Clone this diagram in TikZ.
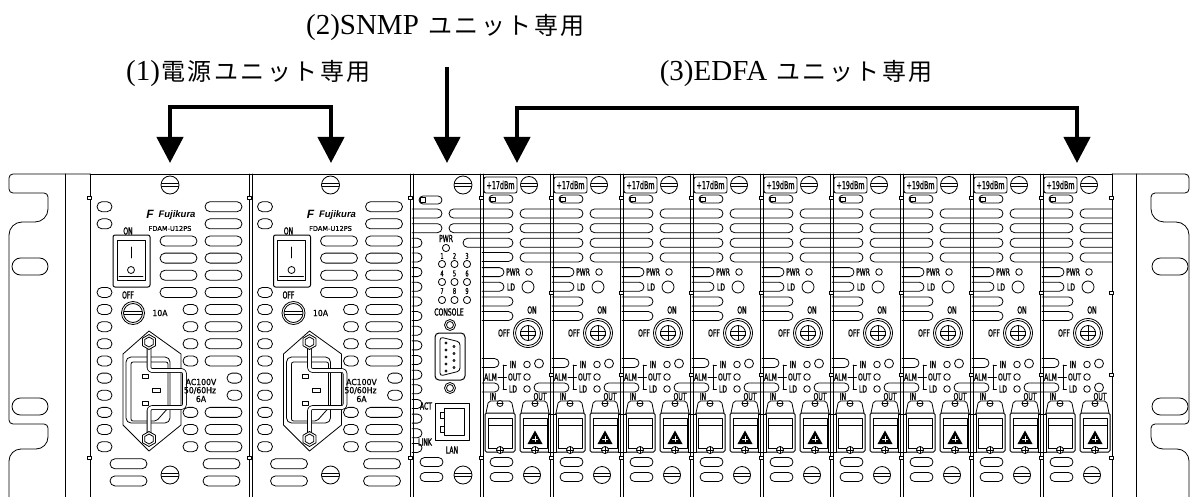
\documentclass[tikz,border=0pt]{standalone}
\usepackage{fontspec}
\setmainfont{Liberation Serif}
\newfontfamily\jpfont{Noto Sans CJK JP}
\newfontfamily\cadf[FakeStretch=0.62,FakeBold=1.2]{DejaVu Sans}
\newfontfamily\cadl[FakeStretch=0.58,FakeBold=0.8]{DejaVu Sans}
\newfontfamily\cadw[FakeStretch=0.92,FakeBold=0.8]{DejaVu Sans}
\newfontfamily\dvsf[FakeBold=0.8]{DejaVu Sans}
\newfontfamily\logof{Liberation Sans}
\usetikzlibrary{arrows.meta}
\newcommand\myjc[1]{\makebox[26.5pt]{#1}}
\newcommand\myslot[4]{\draw[rounded corners=#4pt] (#1,#3-#4) rectangle (#2,#3+#4);}
\newcommand\myhalf[4]{\draw[rounded corners=#4pt] (#1,#3-#4) -- (#2,#3-#4) -- (#2,#3+#4) -- (#1,#3+#4);}
\newcommand\myscrew[3]{\draw[fill=white] (#1,#2) circle[radius=#3pt];
  \draw (#1-0.95*#3,#2-1.4) -- (#1+0.95*#3,#2-1.4) (#1-0.95*#3,#2+1.4) -- (#1+0.95*#3,#2+1.4);}
\newcommand\mynut[3]{\draw[fill=white] (#1,#2-#3) -- (#1+0.866*#3,#2-0.5*#3) -- (#1+0.866*#3,#2+0.5*#3) -- (#1,#2+#3) -- (#1-0.866*#3,#2+0.5*#3) -- (#1-0.866*#3,#2-0.5*#3) -- cycle;}
\tikzset{
 cad/.style={font=\cadf\fontsize{9.8}{9.8}\selectfont, inner sep=0pt},
 cads/.style={font=\cadf\fontsize{8}{8}\selectfont, inner sep=0pt},
 cadw/.style={font=\cadw\fontsize{8.4}{8.4}\selectfont, inner sep=0pt},
 arrline/.style={line width=4.3pt, line join=miter, line cap=butt},
 toplabel/.style={inner sep=0pt}
}
% ---------- power supply unit ----------
\newcommand\mypsu[2]{%
\begin{scope}[shift={(#1,0)}]
 \myscrew{80}{185}{9}
 \myscrew{80}{475}{9}
 \foreach \k in {0,1,5,6,7,8,9,10,11,12,13,14}{\myslot{7}{22}{206.7+17.14*\k}{5}}
 \foreach \k in {2,3,4,5}{\myslot{70}{107}{206.7+17.14*\k}{5}}
 \foreach \k in {6,7,8,9,12,13,14}{\myslot{93}{108}{206.7+17.14*\k}{5}}
 \foreach \k in {0,1,2,3,4,5,6,7,8,9,12,13,14}{\myslot{115}{152}{206.7+17.14*\k}{5}}
 \foreach \k in {10,11}{\myslot{137}{152}{206.7+17.14*\k}{5}}
 \foreach \k in {15,16}{\myslot{20}{57}{206.7+17.14*\k}{5}\myslot{113}{150}{206.7+17.14*\k}{5}}
 \node[font=\logof\bfseries\itshape\fontsize{12}{12}\selectfont, inner sep=0pt] (fm#2) at (60,214.5) {F};
 \node[font=\logof\bfseries\itshape\fontsize{9.5}{9.5}\selectfont, inner sep=0pt] (fj#2) at (87,215) {Fujikura};
 \node[font=\dvsf\fontsize{6.6}{6.6}\selectfont, inner sep=0pt] (fd#2) at (80,228.5) {FDAM-U12PS};
 \node[cad] (on#2) at (38,231) {ON};
 \draw[rounded corners=2pt, line width=1pt] (23,235) rectangle (60,287);
 \draw (27,240) rectangle (55,280);
 \draw (41,247) -- (41,258);
 \draw (41,270) circle[radius=3.5pt];
 \draw (29,276) -- (53,276);
 \node[cad] (off#2) at (38,295) {OFF};
 \draw (43,313) circle[radius=11.5pt];
 \draw (43,313) circle[radius=9.5pt];
 \draw (34,311.5) -- (52,311.5) (34,314.5) -- (52,314.5);
 \node[cadw] (fu#2) at (70,313) {10A};
 \draw (59,331) -- (91,354) -- (91,425) -- (59,451) -- (33,425) -- (33,354) -- cycle;
 \draw[rounded corners=5pt] (36,357) rectangle (80,423);
 \draw[rounded corners=2pt] (41,362) -- (78,362) -- (78,408) -- (66.5,421) -- (41,421) -- cycle;
 \draw[double, double distance=3pt, rounded corners=3pt] (59,344) -- (59,370.5) -- (94.5,370.5) -- (94.5,407.5) -- (59,407.5) -- (59,437);
 \draw (52,374) rectangle (58,378);
 \draw (62,388) rectangle (70,392);
 \draw (52,401) rectangle (58,405);
 \mynut{59}{342}{7.5}\mynut{59}{342}{5}
 \mynut{59}{439}{7.5}\mynut{59}{439}{5}
 \node[cadw] (aca#2) at (111,382) {AC100V};
 \node[cadw] (acb#2) at (110,390.5) {50/60Hz};
 \node[cadw] (acc#2) at (111,399) {6A};
\end{scope}}
% ---------- fibre connector ----------
\newcommand\myconn[2]{%
\begin{scope}[shift={(#1,0)}]
 \draw[rounded corners=2pt] (1,413) -- (3.5,401) -- (26.5,401) -- (29,413);
 \draw[line width=1pt, rounded corners=1.5pt] (0,413) rectangle (30,452);
 \draw (3,418) rectangle (27,425);
 \draw (3,425) rectangle (27,448);
 \draw[fill=white] (15,403.5) circle[radius=3pt]; \draw (12,403.5) -- (18,403.5);
 \draw[fill=white] (15,450) circle[radius=3.5pt]; \draw (11.5,450) -- (18.5,450) (15,446.5) -- (15,453.5);
 \ifnum#2=1
  \fill (15,430.5) -- (22.5,444) -- (7.5,444) -- cycle;
  \draw[white, line width=0.9pt] (12.5,439) -- (17.5,439) (15,436.5) -- (15,441.5);
 \fi
\end{scope}}
% ---------- EDFA unit ----------
\newcommand\myedfa[3]{%
\begin{scope}[shift={(#1,0)}]
 \draw[rounded corners=2pt] (2,177) rectangle (35,193);
 \node[font=\cadl\fontsize{11}{11}\selectfont, inner sep=0pt] (lb#3) at (18.5,185) {#2};
 \myscrew{47}{185}{8.5}
 \myslot{7}{31}{199}{4}
 \draw (8,197) rectangle (13,201);
 \foreach \k in {4,5}{\myhalf{0}{22}{213.5+14.65*\k}{4.5}}
 \foreach \k in {6,7}{\myhalf{0}{31}{213.5+14.65*\k}{4.5}}
 \node[cad] (pw#3) at (31,272) {PWR};
 \draw (47,272) circle[radius=3.3pt];
 \node[cad] (ld#3) at (29,287) {LD};
 \draw (46,287) circle[radius=6pt];
 \node[cad] (on#3) at (50,310) {ON};
 \node[cad] (of#3) at (22,333) {OFF};
 \draw (46,333) circle[radius=14.5pt];
 \draw (46,333) circle[radius=12.5pt];
 \draw (46,333) circle[radius=7.5pt];
 \draw (38.5,331) rectangle (53.5,335);
 \draw (46,325.5) -- (46,340.5);
 \myhalf{0}{17}{363}{4.5}
 \draw (21,365) -- (21,389);
 \draw (21,365) -- (24.5,365) (16,377) -- (24.5,377) (21,389) -- (24.5,389);
 \node[cad] (al#3) at (8.5,377) {ALM};
 \node[cad] (in#3) at (31,364.5) {IN};
 \node[cad] (ou#3) at (32.5,377) {OUT};
 \node[cad] (lx#3) at (31,389) {LD};
 \foreach \y in {364.5,377,389}{\draw (45,\y) circle[radius=3.3pt];}
 \draw (57,363.5) circle[radius=4.5pt];
 \node[cad] (ci#3) at (11,396.5) {IN};
 \node[cad] (co#3) at (58,396.5) {OUT};
 \myconn{3}{0}
 \myconn{38}{1}
 \myslot{8}{31}{462}{4.5}
 \myslot{8}{31}{477}{4.5}
 \myscrew{50}{475}{8.5}
\end{scope}}
% ---------- SNMP unit ----------
\newcommand\mysnmp[1]{%
\begin{scope}[shift={(#1,0)}]
 \myscrew{51}{185}{9}
 \myscrew{51}{475}{9}
 \myslot{7}{30}{200}{4}
 \draw (8,197.5) rectangle (13,202.5);
 \foreach \k in {0,1}{\myhalf{0}{30}{213.5+14.65*\k}{4.5}}
 \foreach \k in {2,...,16}{\myhalf{0}{10}{213.5+14.65*\k}{4.5}}
 \node[cad] (spwr) at (34,238.5) {PWR};
 \draw (34,248) circle[radius=3.6pt];
 \foreach \r/\ly/\cy in {0/256/264,1/273.5/282,2/291/300}{
  \foreach \c/\cx in {1/30,2/42.5,3/55}{
   \pgfmathtruncatemacro\num{3*\r+\c}
   \node[cads] (dg\num) at (\cx,\ly) {\num};
   \draw (\cx,\cy) circle[radius=3.6pt];}}
 \node[cad] (scon) at (37,312) {CONSOLE};
 \draw (38,325) circle[radius=5.5pt]; \draw (38,325) circle[radius=3.5pt];
 \draw[rounded corners=4pt, line width=1pt] (23,333) rectangle (53,380);
 \draw[rounded corners=3pt] (28,337) -- (48,342) -- (48,371) -- (28,376) -- cycle;
 \foreach \y in {343,350,357,364,371}{\draw (34,\y) circle[radius=1.1pt];}
 \foreach \y in {346.5,353.5,360.5,367.5}{\draw (42,\y) circle[radius=1.1pt];}
 \draw (38,388) circle[radius=5.5pt]; \draw (38,388) circle[radius=3.5pt];
 \node[cad] (sact) at (14,406) {ACT};
 \draw[line width=1pt] (23,403) rectangle (57,440);
 \draw (32,408) rectangle (52,435);
 \draw (28,412) rectangle (32,418); \draw (28,426) rectangle (32,432);
 \node[cad] (slink) at (13,442) {LINK};
 \node[cad] (slan) at (40,450) {LAN};
 \myslot{8}{31}{462}{4.5}
 \myslot{8}{31}{477}{4.5}
\end{scope}}

\begin{document}
\begin{tikzpicture}[x=1pt,y=-1pt,line width=0.8pt,line cap=round,line join=round]
\useasboundingbox (0,0) rectangle (1193,497);
% ---------- top labels ----------
\node[toplabel] (lbl1) at (249,74) {\fontsize{29}{30}\selectfont(1)\jpfont\fontsize{24}{30}\selectfont\myjc{電}\myjc{源}\myjc{ユ}\myjc{ニ}\myjc{ッ}\myjc{ト}\myjc{専}\myjc{用}};
\node[toplabel] (lbl2) at (446,28) {\fontsize{29}{30}\selectfont(2)SNMP\hspace{8pt}\jpfont\fontsize{24}{30}\selectfont\myjc{ユ}\myjc{ニ}\myjc{ッ}\myjc{ト}\myjc{専}\myjc{用}};
\node[toplabel] (lbl3) at (797,74) {\fontsize{29}{30}\selectfont(3)EDFA\hspace{8pt}\jpfont\fontsize{24}{30}\selectfont\myjc{ユ}\myjc{ニ}\myjc{ッ}\myjc{ト}\myjc{専}\myjc{用}};
% ---------- arrows ----------
\coordinate (pa) at (170,163); \coordinate (pat) at (170,107);
\coordinate (pb) at (331,163); \coordinate (pbt) at (331,107);
\draw[arrline, {Triangle[length=26pt,width=26pt]}-{Triangle[length=26pt,width=26pt]}] (pa) -- (pat) -- (pbt) -- (pb);
\coordinate (sa) at (447,163); \coordinate (sat) at (447,67);
\draw[arrline, -{Triangle[length=26pt,width=26pt]}] (sat) -- (sa);
\coordinate (ea) at (517,163); \coordinate (eat) at (517,108);
\coordinate (eb) at (1077,163); \coordinate (ebt) at (1077,108);
\draw[arrline, {Triangle[length=26pt,width=26pt]}-{Triangle[length=26pt,width=26pt]}] (ea) -- (eat) -- (ebt) -- (eb);
% ---------- ears ----------
\draw[rounded corners=4pt] (90,174) -- (9,174) -- (9,193) -- (48,193) [rounded corners=13pt] -- (48,222) -- (9,222) [rounded corners=4pt] -- (9,424) -- (48,424) [rounded corners=12pt] -- (48,449) -- (9,449) [rounded corners=4pt] -- (9,497);
\draw[rounded corners=4pt] (1112,174) -- (1189,174) -- (1189,193) -- (1151,193) [rounded corners=13pt] -- (1151,222) -- (1189,222) [rounded corners=4pt] -- (1189,424) -- (1151,424) [rounded corners=12pt] -- (1151,449) -- (1189,449) [rounded corners=4pt] -- (1189,497);
\myslot{12}{48}{266.5}{8.5}
\myslot{12}{48}{406.5}{8.5}
\myslot{1152}{1188}{266.5}{8.5}
\myslot{1152}{1188}{406.5}{8.5}
\draw (65,174) -- (65,497);
\draw (1136,174) -- (1136,497);
\draw (90,174) -- (1112,174);
% ---------- units ----------
\mypsu{90}{A}
\mypsu{250.5}{B}
\mysnmp{412}
\foreach \i in {0,...,8}{
 \pgfmathtruncatemacro\xx{482+70*\i}
 \ifnum\i<4 \myedfa{\xx}{+17dBm}{\i}\else\myedfa{\xx}{+19dBm}{\i}\fi
}
% slots that run across unit boundaries
\myslot{449}{513}{213.5}{4.5}
\myslot{449}{513}{228.15}{4.5}
\myslot{463}{513}{242.8}{4.5}
\myhalf{482}{513}{256.95}{4.5}
\myhalf{482}{499}{387.5}{4.5}
\foreach \i in {0,...,7}{
 \pgfmathtruncatemacro\xx{482+70*\i}
 \foreach \k in {0,1,2,3}{\myslot{\xx+38}{\xx+101}{213.5+14.65*\k}{4.5}}
 \myslot{\xx+52}{\xx+87}{387.5}{4.5}
}
\foreach \k in {0,1,2,3}{\myhalf{1112}{1080}{213.5+14.65*\k}{4.5}}
\draw (1099,387.5) circle[radius=4.5pt];
% ---------- unit boundaries ----------
\draw (90,174) -- (90,497);
\draw (1112,174) -- (1112,497);
\foreach \s in {250.5,411.5,482,552,622,692,762,832,902,972,1042}{
 \draw (\s-1.6,174) -- (\s-1.6,497);
 \draw (\s+1.6,174) -- (\s+1.6,497);}
\foreach \s in {552,622,692,762,832,902,972,1042}{
 \draw[fill=white] (\s-4,414) rectangle (\s+4,452);
 \draw (\s-1.6,414) -- (\s-1.6,452) (\s+1.6,414) -- (\s+1.6,452);}
\foreach \s in {90,250.5,411.5,482,552,622,692,762,832,902,972,1042,1112}{
 \foreach \t in {198,458}{\draw[fill=white] (\s-3,\t-1.8) rectangle (\s+1,\t+1.8);}}
\foreach \s in {552,622,692,762,832,902,972,1042,1112}{
 \foreach \t in {293,375}{\draw[fill=white] (\s-3,\t-1.8) rectangle (\s+1,\t+1.8);}}
\end{tikzpicture}
\end{document}
